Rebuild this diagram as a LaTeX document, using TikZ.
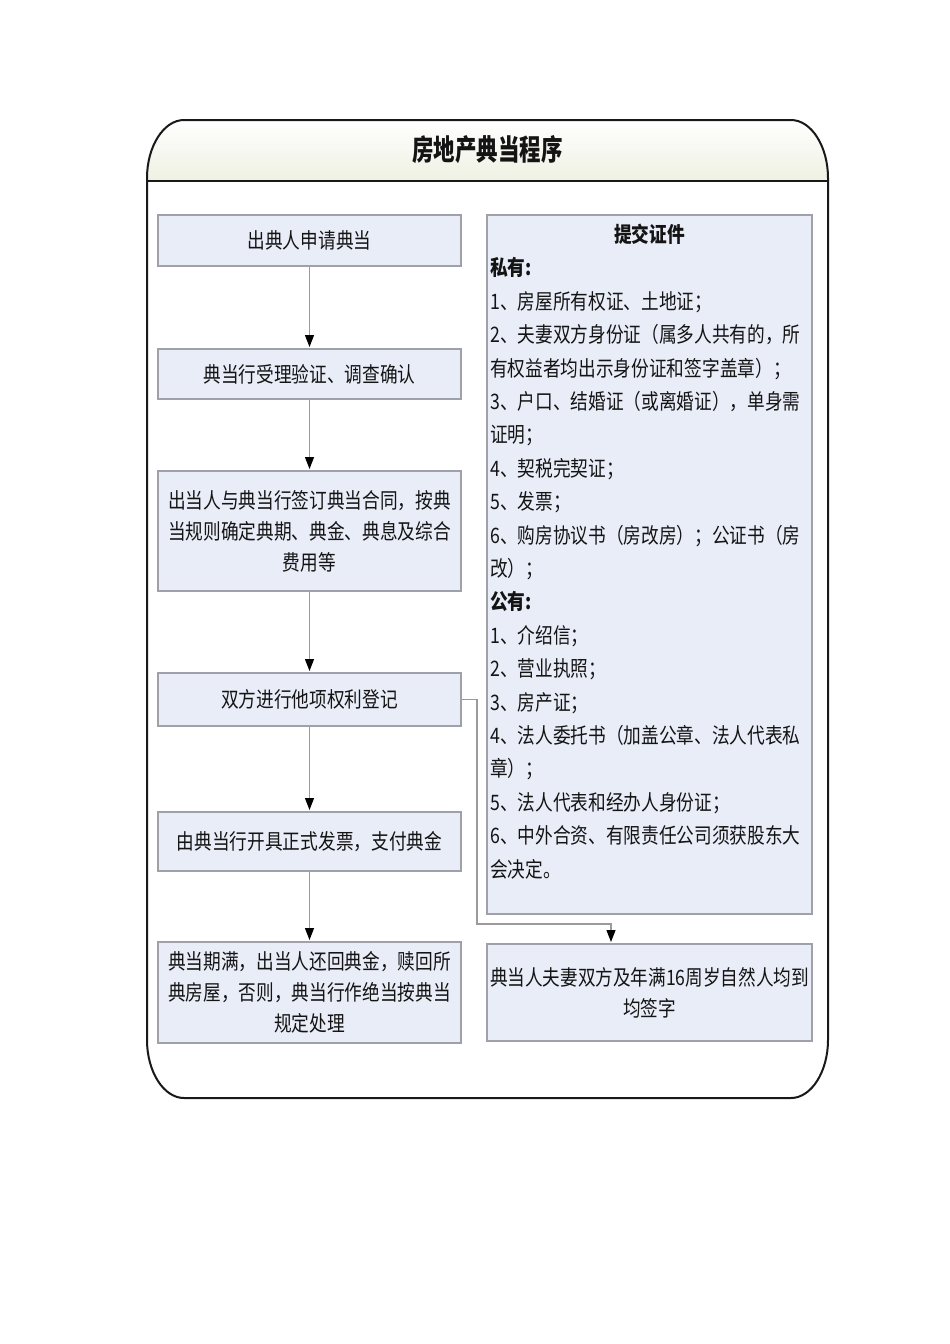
\documentclass[tikz,border=0pt]{standalone}
\usepackage{fontspec}
\newfontfamily\cjk[FakeStretch=0.83]{Noto Sans CJK SC}
\newfontfamily\cjktitle[FakeStretch=0.74]{Noto Sans CJK SC}
\usetikzlibrary{arrows.meta}
\definecolor{boxfill}{RGB}{233,237,248}
\definecolor{boxline}{RGB}{160,160,168}
\definecolor{conline}{RGB}{155,155,155}
\definecolor{frameline}{RGB}{25,25,25}
\definecolor{titlebot}{RGB}{238,241,226}
\definecolor{txt}{RGB}{20,20,20}
\begin{document}
\begin{tikzpicture}[x=1pt,y=-1pt,
  stepbox/.style={draw=boxline, line width=2pt, fill=boxfill, minimum width=303pt,
    inner sep=0pt, align=center, text=txt, font=\cjk\fontsize{21.3}{31}\selectfont},
  sidebox/.style={draw=boxline, line width=2pt, fill=boxfill, minimum width=325pt,
    inner sep=0pt, align=center, text=txt, font=\cjk\fontsize{21.2}{31}\selectfont},
  conn/.style={draw=conline, line width=1.2pt, shorten >=1pt,
    -{Triangle[width=9pt,length=12pt,color=black]}},
  connplain/.style={draw=conline, line width=1.2pt}]
\fill[white] (0,0) rectangle (950,1344);
\path[use as bounding box] (0,0) rectangle (950,1344);

% title band
\shade[top color=white, bottom color=titlebot]
  (147,181) -- (147,178) .. controls (147,146.5) and (163.6,120) .. (184,120)
  -- (791,120) .. controls (811.4,120) and (828,146.5) .. (828,178) -- (828,181) -- cycle;
% outer frame
\draw[frameline, line width=2pt]
  (147,178) .. controls (147,146.5) and (163.6,120) .. (184,120)
  -- (791,120) .. controls (811.4,120) and (828,146.5) .. (828,178)
  -- (828,1040) .. controls (828,1071.5) and (811.4,1098) .. (791,1098)
  -- (184,1098) .. controls (163.6,1098) and (147,1071.5) .. (147,1040) -- cycle;
\draw[frameline, line width=2pt] (147,181) -- (828,181);
\node[text=txt, font=\cjktitle\bfseries\fontsize{29}{31}\selectfont, inner sep=0pt] (title) at (487.5,150) {房地产典当程序};

% left column
\node[stepbox, minimum height=51pt] (b1) at (309.5,240.5) {出典人申请典当};
\node[stepbox, minimum height=50pt] (b2) at (309.5,374) {典当行受理验证、调查确认};
\node[stepbox, minimum height=120pt] (b3) at (309.5,531) {出当人与典当行签订典当合同，按典\\当规则确定典期、典金、典息及综合\\费用等};
\node[stepbox, minimum height=53pt] (b4) at (309.5,699.5) {双方进行他项权利登记};
\node[stepbox, minimum height=59pt] (b5) at (309.5,841.5) {由典当行开具正式发票，支付典金};
\node[stepbox, minimum height=101pt] (b6) at (309.5,992.5) {典当期满，出当人还回典金，赎回所\\典房屋，否则，典当行作绝当按典当\\规定处理};

% right column
\node[sidebox, minimum height=699pt] (r1) at (649.5,564.5) {};
\node[text=txt, inner sep=0pt, font=\cjk\bfseries\fontsize{21.3}{31}\selectfont] (r1title) at (649.5,234) {提交证件};
\node[text=txt, inner sep=0pt, anchor=north west, align=left,
  font=\cjk\fontsize{21.3}{33.4}\selectfont] (r1list) at (490,257.5)
  {{\bfseries 私有:}\\
   1、房屋所有权证、土地证；\\
   2、夫妻双方身份证（属多人共有的，所\\
   有权益者均出示身份证和签字盖章）；\\
   3、户口、结婚证（或离婚证），单身需\\
   证明；\\
   4、契税完契证；\\
   5、发票；\\
   6、购房协议书（房改房）；公证书（房\\
   改）；\\
   {\bfseries 公有:}\\
   1、介绍信；\\
   2、营业执照；\\
   3、房产证；\\
   4、法人委托书（加盖公章、法人代表私\\
   章）；\\
   5、法人代表和经办人身份证；\\
   6、中外合资、有限责任公司须获股东大\\
   会决定。};
\node[sidebox, minimum height=97pt] (r2) at (649.5,992.5) {典当人夫妻双方及年满16周岁自然人均到\\均签字};

% connectors
\draw[conn] (b1.south) -- (b2.north);
\draw[conn] (b2.south) -- (b3.north);
\draw[conn] (b3.south) -- (b4.north);
\draw[conn] (b4.south) -- (b5.north);
\draw[conn] (b5.south) -- (b6.north);
\coordinate (t1) at (477,699.5);
\coordinate (t2) at (477,924);
\coordinate (t3) at (611,924);
\draw[conn] (b4.east) -- (t1) -- (t2) -- (t3) -- (t3 |- r2.north);
\end{tikzpicture}
\end{document}
